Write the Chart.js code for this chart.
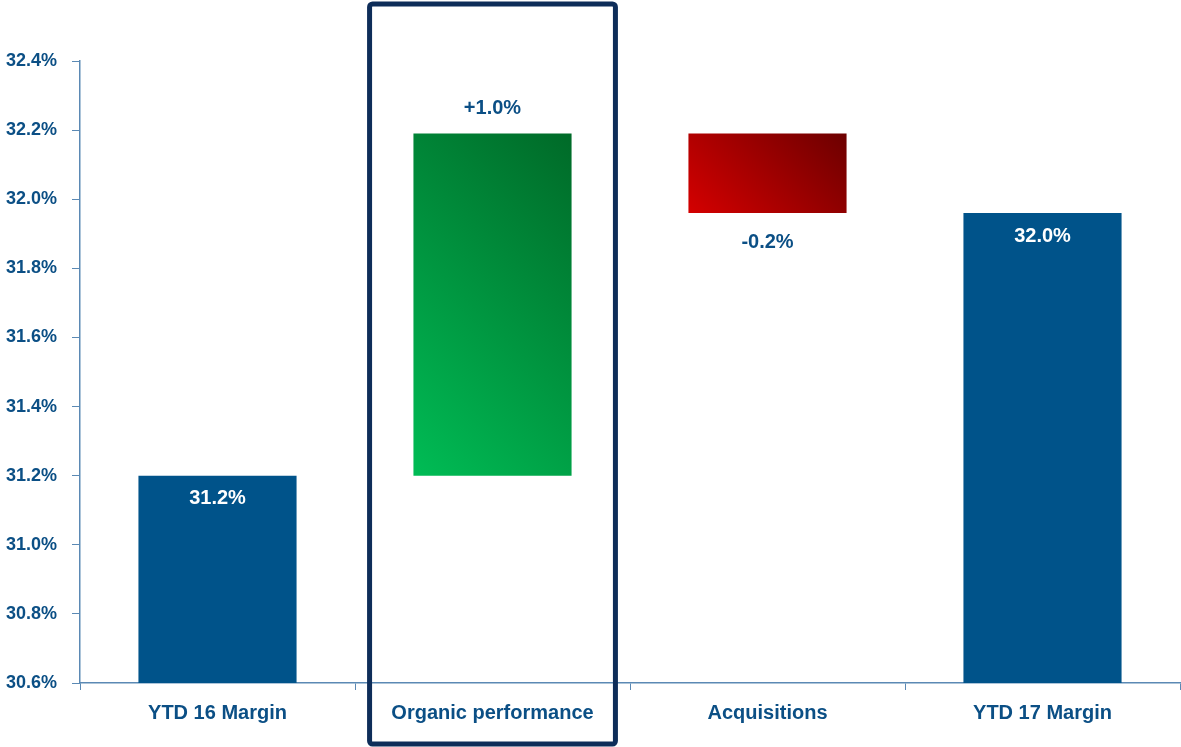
<!DOCTYPE html>
<html>
<head>
<meta charset="utf-8">
<script src="https://cdn.jsdelivr.net/npm/chart.js@4/dist/chart.umd.min.js"></script>
<style>
    html, body { margin: 0; padding: 0; background: #fff; }
    #wrap { width: 1181px; height: 747px; position: relative; }
</style>
</head>
<body>
<div id="wrap"><canvas id="chart"></canvas></div>
<script>
// Chart data
const categories = ['YTD 16 Margin', 'Organic performance', 'Acquisitions', 'YTD 17 Margin'];
const barStart = [30.6, 31.2, 31.96, 30.6];
const barEnd = [31.2, 32.19, 32.19, 31.96];
const valueLabels = ['31.2%', '+1.0%', '-0.2%', '32.0%'];
const yTicks = [30.6, 30.8, 31.0, 31.2, 31.4, 31.6, 31.8, 32.0, 32.2, 32.4];
const highlighted = 1;

const FONT = '"Liberation Sans", Arial, sans-serif';
const NAVY = '#00538A';
const TEXT = '#0B4F85';
const AXIS = '#5B89B4';

function barFill(context) {
    const i = context.dataIndex;
    const chart = context.chart;
    const { x, y } = chart.scales;
    if (i === 0 || i === 3) return NAVY;
    if (!x || !y || !chart.chartArea) return i === 1 ? '#00A040' : '#B00000';
    // 45 degree gradient, light at bottom-left, dark at top-right
    const w = x.width / categories.length * 0.575;
    const top = y.getPixelForValue(barEnd[i]);
    const bottom = y.getPixelForValue(barStart[i]);
    const h = bottom - top;
    const cx = x.getPixelForValue(i);
    const cy = (top + bottom) / 2;
    const t = (w + h) / 4;
    const g = chart.ctx.createLinearGradient(cx - t, cy + t, cx + t, cy - t);
    if (i === 1) {
        g.addColorStop(0, '#00BC55');
        g.addColorStop(1, '#006A28');
    } else {
        g.addColorStop(0, '#D40000');
        g.addColorStop(1, '#6C0000');
    }
    return g;
}

// Value labels next to the bars
const valueLabelPlugin = {
    id: 'valueLabels',
    afterDatasetsDraw(chart) {
        const { ctx } = chart;
        const { x, y } = chart.scales;
        ctx.save();
        ctx.font = 'bold 20px ' + FONT;
        ctx.textAlign = 'center';
        ctx.textBaseline = 'middle';
        valueLabels.forEach((txt, i) => {
            const cx = x.getPixelForValue(i);
            let ly;
            if (i === 0 || i === 3) {
                ctx.fillStyle = '#ffffff';
                ly = y.getPixelForValue(barEnd[i]) + 23;
            } else if (i === 1) {
                ctx.fillStyle = TEXT;
                ly = y.getPixelForValue(barEnd[i]) - 25;
            } else {
                ctx.fillStyle = TEXT;
                ly = y.getPixelForValue(barStart[i]) + 29;
            }
            ctx.fillText(txt, cx, ly);
        });
        ctx.restore();
    }
};

// Frame round the highlighted category
const highlightPlugin = {
    id: 'highlight',
    afterDraw(chart) {
        const { ctx } = chart;
        const x = chart.scales.x;
        const cx = x.getPixelForValue(highlighted);
        const half = x.width / categories.length * 0.447;
        ctx.save();
        ctx.strokeStyle = '#0E2D59';
        ctx.lineWidth = 5;
        ctx.beginPath();
        ctx.roundRect(cx - half, 4, half * 2, chart.height - 7, 3);
        ctx.stroke();
        ctx.restore();
    }
};

new Chart(document.getElementById('chart'), {
    type: 'bar',
    data: {
        labels: categories,
        datasets: [{
            data: barStart.map((s, i) => [s, barEnd[i]]),
            backgroundColor: barFill,
            borderWidth: 0,
            barPercentage: 0.575,
            categoryPercentage: 1.0
        }]
    },
    options: {
        responsive: true,
        maintainAspectRatio: false,
        animation: false,
        layout: { padding: { top: 61, right: 1, left: 0, bottom: 11 } },
        plugins: {
            legend: { display: false },
            tooltip: { enabled: false }
        },
        scales: {
            x: {
                grid: {
                    offset: true,
                    drawOnChartArea: false,
                    color: AXIS,
                    tickLength: 7
                },
                border: { color: AXIS, width: 1.5 },
                ticks: {
                    color: TEXT,
                    font: { family: FONT, size: 20, weight: 'bold' },
                    padding: 11
                }
            },
            y: {
                min: 30.6,
                max: 32.4,
                afterFit(axis) {
                    axis.width = 80;
                },
                afterBuildTicks(axis) {
                    axis.ticks = yTicks.map(v => ({ value: v }));
                },
                grid: {
                    drawOnChartArea: false,
                    color: AXIS,
                    tickLength: 8
                },
                border: { color: AXIS, width: 1.5 },
                ticks: {
                    color: TEXT,
                    font: { family: FONT, size: 18, weight: 'bold' },
                    padding: 15,
                    callback: v => v.toFixed(1) + '%'
                }
            }
        }
    },
    plugins: [valueLabelPlugin, highlightPlugin]
});
</script>
</body>
</html>
